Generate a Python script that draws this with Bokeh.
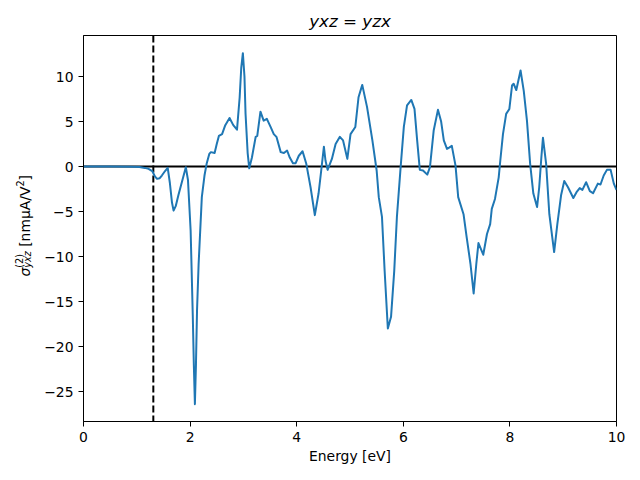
import math
from bokeh.plotting import figure
from bokeh.layouts import row
from bokeh.models import Span, Label, FixedTicker, Range1d
from bokeh.embed import file_html
from bokeh.resources import INLINE

# ---- data ----
energy = [0.0, 0.5, 0.9, 1.05, 1.15, 1.22, 1.29, 1.34, 1.38, 1.43, 1.47, 1.53, 1.58,
          1.62, 1.66, 1.69, 1.73, 1.78, 1.82, 1.87, 1.92, 1.96, 2.01, 2.05, 2.07,
          2.09, 2.11, 2.13, 2.16, 2.22, 2.27, 2.31, 2.36, 2.39, 2.46, 2.50, 2.54,
          2.60, 2.66, 2.74, 2.81, 2.88, 2.93, 2.96, 2.99, 3.02, 3.04, 3.08, 3.11,
          3.16, 3.23, 3.26, 3.32, 3.38, 3.44, 3.51, 3.57, 3.62, 3.70, 3.76, 3.82,
          3.87, 3.93, 3.98, 4.04, 4.11, 4.18, 4.26, 4.34, 4.41, 4.46, 4.51, 4.54,
          4.58, 4.66, 4.73, 4.81, 4.87, 4.95, 5.01, 5.10, 5.16, 5.23, 5.32, 5.42,
          5.50, 5.54, 5.60, 5.65, 5.71, 5.77, 5.83, 5.88, 5.95, 6.01, 6.07, 6.15,
          6.21, 6.26, 6.31, 6.37, 6.45, 6.50, 6.57, 6.65, 6.71, 6.76, 6.82, 6.86,
          6.91, 6.98, 7.03, 7.13, 7.19, 7.26, 7.32, 7.37, 7.41, 7.50, 7.57, 7.63,
          7.66, 7.72, 7.79, 7.82, 7.87, 7.93, 7.99, 8.04, 8.07, 8.12, 8.20, 8.26,
          8.32, 8.38, 8.44, 8.51, 8.55, 8.59, 8.62, 8.68, 8.74, 8.83, 8.89, 8.96,
          9.02, 9.09, 9.19, 9.25, 9.31, 9.36, 9.43, 9.50, 9.56, 9.65, 9.70, 9.76,
          9.82, 9.89, 9.95, 10.0]
sigma = [0.0, 0.0, -0.02, -0.06, -0.15, -0.25, -0.5, -1.1, -1.37, -1.3, -1.0, -0.5, -0.15,
         -1.8, -4.0, -4.9, -4.4, -3.2, -2.3, -1.2, -0.07, -1.5, -7.1, -16.5, -22.0,
         -26.4, -22.0, -16.0, -10.8, -3.4, -1.0, 0.3, 1.4, 1.6, 1.5, 2.5, 3.4,
         3.6, 4.6, 5.4, 4.6, 4.1, 7.7, 11.0, 12.6, 10.0, 5.9, 1.5, -0.2,
         1.0, 3.3, 3.4, 6.1, 5.1, 5.3, 4.4, 3.6, 3.3, 1.6, 1.5, 1.78,
         1.0, 0.37, 0.37, 1.2, 1.7, 0.3, -2.3, -5.4, -3.0, -0.44, 2.2, 0.67,
         -0.37, 0.85, 2.5, 3.3, 2.9, 0.85, 3.6, 4.4, 7.7, 9.07, 6.6, 2.9,
         -0.44, -3.4, -5.6, -11.6, -18.0, -16.7, -11.6, -5.6, -0.07, 4.4, 6.8, 7.4,
         6.4, 2.9, -0.37, -0.44, -0.9, -0.07, 4.0, 6.3, 5.0, 2.9, 1.96, 2.1,
         2.3, 0.1, -3.4, -5.3, -7.9, -10.8, -14.1, -10.8, -8.5, -9.8, -7.5, -6.4,
         -4.7, -3.6, -1.2, 0.67, 3.6, 5.85, 6.4, 9.0, 9.2, 8.5, 10.67, 8.4,
         5.1, 0.3, -3.0, -4.5, -2.3, 1.0, 3.2, 0.3, -5.3, -9.5, -6.4, -3.2,
         -1.6, -2.3, -3.5, -2.85, -2.4, -2.6, -1.74, -2.74, -2.96, -1.9, -2.0, -1.0,
         -0.37, -0.37, -1.9, -2.6]
gap_energy = 1.31
x_ticks = [0, 2, 4, 6, 8, 10]
y_ticks = [-25, -20, -15, -10, -5, 0, 5, 10]
x_limits = (0.0, 10.0)
y_limits = (-28.33, 14.56)
title_text = "yxz = yzx"
x_label = "Energy [eV]"

FONT = "DejaVu Sans"
FS = "13.9px"
FS_SMALL = "9.7px"
LABEL_W = 40

# ---- main plot ----
p = figure(width=640 - LABEL_W, height=480, output_backend="svg", toolbar_location=None,
           x_range=Range1d(*x_limits), y_range=Range1d(*y_limits),
           min_border_left=83 - LABEL_W, min_border_right=24, min_border_top=35,
           min_border_bottom=59)

p.title.text = title_text
p.title.align = "center"
p.title.text_font = FONT
p.title.text_font_size = "16.7px"
p.title.text_font_style = "italic"
p.title.text_color = "black"

p.grid.visible = False
p.outline_line_color = "black"
p.outline_line_width = 1
p.background_fill_color = "white"
p.border_fill_color = "white"

for ax in (p.xaxis[0], p.yaxis[0]):
    ax.major_tick_out = 5
    ax.major_tick_in = 0
    ax.minor_tick_line_color = None
    ax.major_label_text_font = FONT
    ax.major_label_text_font_size = FS
    ax.major_label_text_color = "black"
    ax.axis_line_color = "black"
    ax.major_tick_line_color = "black"
    ax.axis_label_text_font = FONT
    ax.axis_label_text_font_size = FS
    ax.axis_label_text_font_style = "normal"
    ax.axis_label_text_color = "black"

p.xaxis.ticker = FixedTicker(ticks=x_ticks)
p.yaxis.ticker = FixedTicker(ticks=y_ticks)
p.yaxis.major_label_overrides = {float(t): str(t).replace("-", "\u2212") for t in y_ticks}
p.xaxis.axis_label = x_label
p.xaxis.axis_label_standoff = 3
p.xaxis.major_label_standoff = 5
p.yaxis.major_label_standoff = 5

p.add_layout(Span(location=0, dimension="width", line_color="black", line_width=2,
                  level="underlay"))
p.add_layout(Span(location=gap_energy, dimension="height", line_color="black", line_width=2,
                  line_dash="7 3", level="underlay"))

p.line(energy, sigma, line_color="#1f77b4", line_width=2, line_join="round")

# ---- y-axis label panel (rotated text built from pieces, reads bottom to top) ----
lab = figure(width=LABEL_W, height=480, output_backend="svg", toolbar_location=None,
             x_range=Range1d(0, 1), y_range=Range1d(0, 1),
             x_axis_location=None, y_axis_location=None, min_border=0)
lab.grid.visible = False
lab.outline_line_color = None
lab.background_fill_color = "white"
lab.border_fill_color = "white"

ang = math.pi / 2
pieces = [
    ("\u03c3", 24, 276, FS, "italic"),
    ("(2)", 19, 267.3, FS_SMALL, "normal"),
    ("yxz", 27, 267.3, FS_SMALL, "italic"),
    ("[nmμA/V", 24, 246.3, FS, "normal"),
    ("2", 19, 186.1, FS_SMALL, "normal"),
    ("]", 24, 179.9, FS, "normal"),
]
for txt, sx, sy, fs, st in pieces:
    lab.add_layout(Label(x=sx, y=sy, x_units="canvas", y_units="canvas", text=txt, angle=ang,
                         text_font=FONT, text_font_size=fs, text_font_style=st,
                         text_color="black", text_align="left", text_baseline="alphabetic"))

layout = row(lab, p, spacing=0)
open("out.html", "w").write(file_html(layout, INLINE))
